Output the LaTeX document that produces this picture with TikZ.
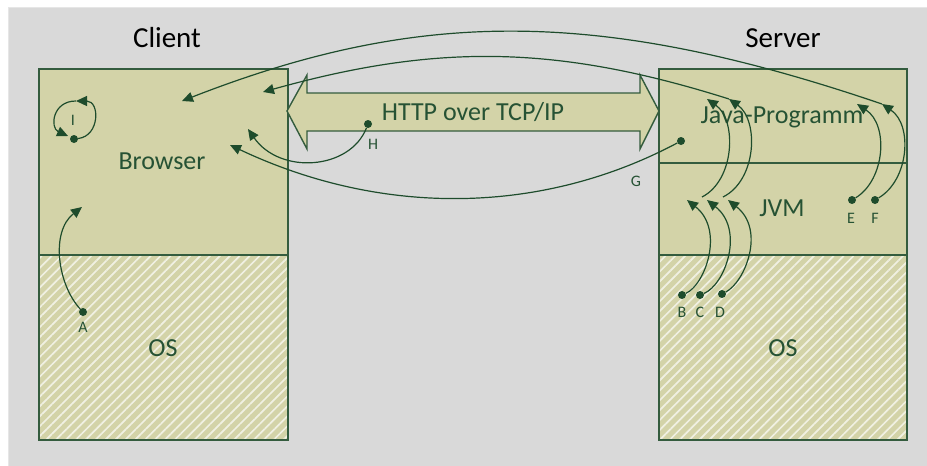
\documentclass[tikz,border=0pt]{standalone}
\usepackage{fontspec}
\setmainfont{Carlito}
\usetikzlibrary{arrows.meta,patterns.meta}
\definecolor{bgc}{RGB}{217,217,217}
\definecolor{bgedge}{RGB}{230,230,230}
\definecolor{olivef}{RGB}{211,211,168}
\definecolor{boxln}{RGB}{52,92,62}
\definecolor{arr}{RGB}{30,76,44}
\definecolor{txt}{RGB}{38,82,52}
\definecolor{hatchc}{RGB}{240,240,226}
\begin{document}
\begin{tikzpicture}[x=1pt,y=-1pt,
  layer/.style={draw=boxln, line width=1.4pt, fill=olivef, inner sep=0pt},
  hatchlayer/.style={draw=boxln, line width=1.4pt, inner sep=0pt, preaction={fill=olivef},
    pattern={Lines[angle=45,distance=7pt,line width=1.7pt]}, pattern color=hatchc},
  big/.style={font=\fontsize{26}{28}\selectfont, text=txt, anchor=base, inner sep=0pt},
  title/.style={font=\fontsize{29}{32}\selectfont, text=black, anchor=base, inner sep=0pt},
  small/.style={font=\fontsize{16}{18}\selectfont, text=txt, anchor=base, inner sep=0pt},
  flow/.style={draw=arr, line width=1.2pt, -{Triangle[length=11pt,width=10pt]}},
  dot/.style={circle, fill=arr, inner sep=0pt, minimum size=8pt},
]
\useasboundingbox (0,0) rectangle (927,466);
\fill[bgc, draw=bgedge, line width=1pt] (8,7) rectangle (927,466);

% boxes
\node[layer, minimum width=249pt, minimum height=186pt] (browserbox) at (163.5,162) {};
\node[hatchlayer, minimum width=249pt, minimum height=185pt] (cosbox) at (163.5,347.5) {};
\node[layer, minimum width=248pt, minimum height=94pt] (javabox) at (783,116) {};
\node[layer, minimum width=248pt, minimum height=92pt] (jvmbox) at (783,209) {};
\node[hatchlayer, minimum width=248pt, minimum height=185pt] (sosbox) at (783,347.5) {};

% double arrow
\draw[boxln, fill=olivef, line width=1.4pt, line join=miter]
  (287,111) -- (307,75) -- (307,93) -- (640,93) -- (640,75) -- (659,111)
  -- (640,149) -- (640,131) -- (307,131) -- (307,149) -- cycle;

% texts
\node[title] (client) at (167,47) {Client};
\node[title] (server) at (783,47) {Server};
\node[big] (browser) at (162,169) {Browser};
\node[big] (cos) at (163,356) {OS};
\node[big] (java) at (782,123) {Java-Programm};
\node[big] (jvm) at (782,216) {JVM};
\node[big] (sos) at (783,356) {OS};
\node[big] (http) at (473,120) {HTTP over TCP/IP};

% dots and labels
\node[dot] (A) at (83,312) {};  \node[small] (lA) at (83,332) {A};
\node[dot] (B) at (682,295) {}; \node[small] (lB) at (682,317) {B};
\node[dot] (C) at (700,295) {}; \node[small] (lC) at (700,317) {C};
\node[dot] (D) at (722,294) {}; \node[small] (lD) at (720,317) {D};
\node[dot] (E) at (852,200) {}; \node[small] (lE) at (851,223) {E};
\node[dot] (F) at (875,200) {}; \node[small] (lF) at (875,223) {F};
\node[dot] (G) at (681,141) {}; \node[small] (lG) at (636,186) {G};
\node[dot] (H) at (368,124) {}; \node[small] (lH) at (373,149) {H};
\node[dot] (I) at (74,139) {};  \node[small] (lI) at (73,125) {I};

% arrow tips
\coordinate (tA) at (82,207);
\coordinate (tB) at (687,200);
\coordinate (tC) at (707,200);
\coordinate (tD) at (728,200);
\coordinate (jC) at (702,197);
\coordinate (jD) at (723,197);
\coordinate (tC2) at (707,99);
\coordinate (tD2) at (729,99);
\coordinate (tE) at (857,104);
\coordinate (tF) at (882,104);
\coordinate (tOut) at (182,101);
\coordinate (tIn) at (263,92);
\coordinate (tH) at (248,129);
\coordinate (tG) at (230,145);
\coordinate (tI1) at (76,101);
\coordinate (tI2) at (68,136);

% connectors
\draw[flow] (A) .. controls (58,285) and (50,232) .. (tA);
\draw[flow] (B) .. controls (705,285) and (725,230) .. (tB);
\draw[flow] (C) .. controls (725,285) and (745,230) .. (tC);
\draw[flow] (D) .. controls (745,282) and (766,230) .. (tD);
\draw[flow] (jC) .. controls (735,180) and (737,120) .. (tC2);
\draw[flow] (jD) .. controls (757,180) and (759,120) .. (tD2);
\draw[flow] (E) .. controls (885,180) and (889,125) .. (tE);
\draw[flow] (F) .. controls (909,180) and (913,125) .. (tF);
\draw[flow] (tF) .. controls (600,8) and (420,8) .. (tOut);
\draw[flow] (tD2) .. controls (555,44) and (435,44) .. (tIn);
\draw[flow] (H) .. controls (350,170) and (280,175) .. (tH);
\draw[flow] (G) .. controls (540,216) and (380,216) .. (tG);
\draw[flow] (I) .. controls (100,136) and (100,101) .. (tI1);
\draw[flow] (tI1) .. controls (52,101) and (50,128) .. (tI2);
\end{tikzpicture}
\end{document}
